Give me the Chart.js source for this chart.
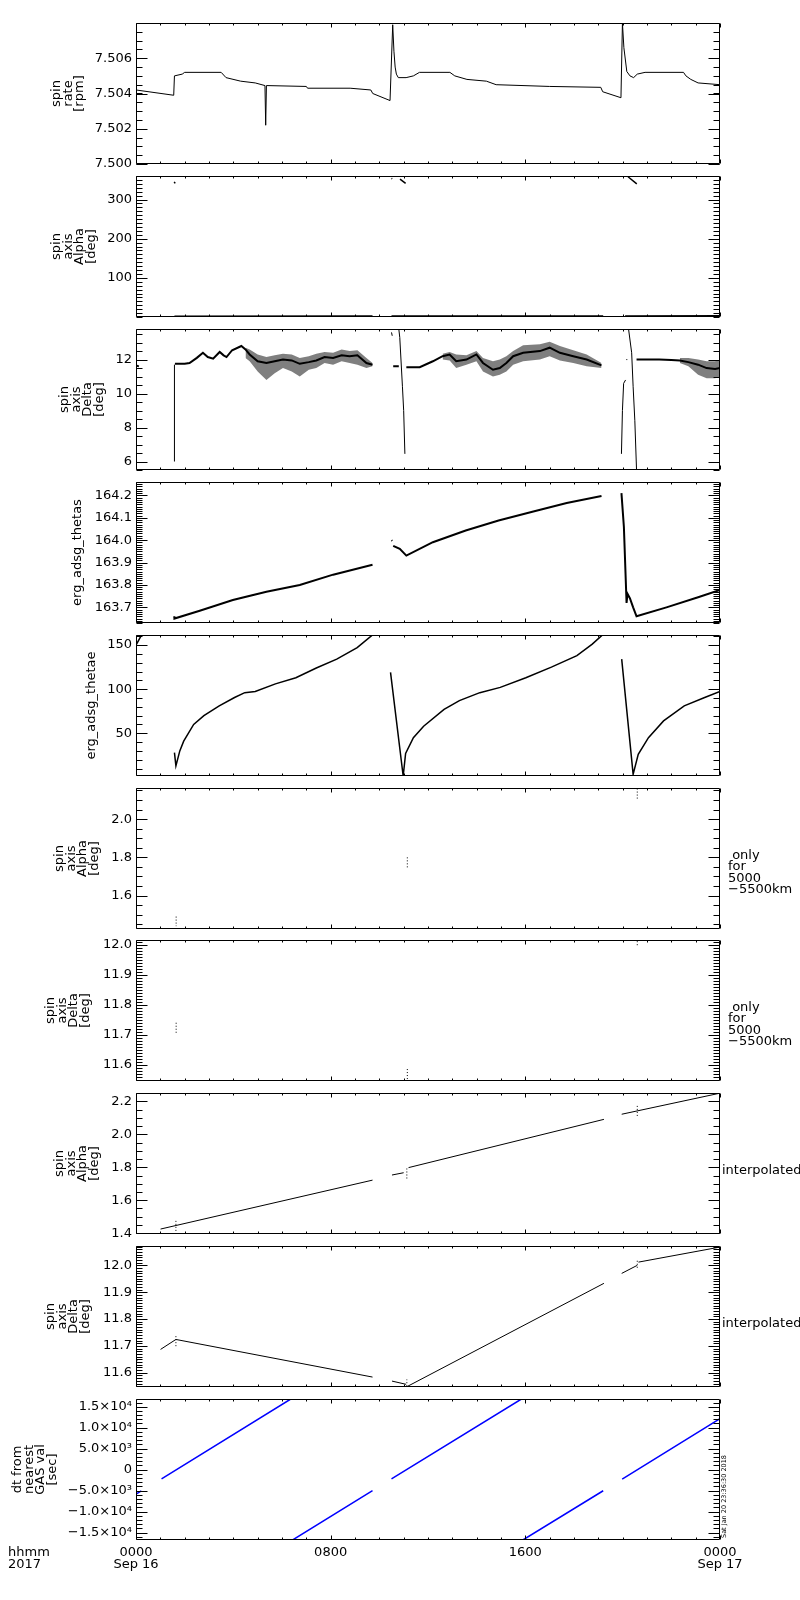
<!DOCTYPE html>
<html>
<head>
<meta charset="utf-8">
<title>ERG spin axis summary</title>
<script src="https://cdn.jsdelivr.net/npm/chart.js@4.4.1/dist/chart.umd.min.js"></script>
<style>
  body { margin: 0; background: #fff; }
  #page { position: relative; width: 800px; height: 1600px; background: #fff; }
  #page canvas { position: absolute; left: 0; }
</style>
</head>
<body>
<div id="page"></div>
<script>
// x axis (hours from 2017-09-16 00:00)
var hourTicks = [0, 8, 16, 24];
var hourLabels = [["0000", "Sep 16"], "0800", "1600", ["0000", "Sep 17"]];

// panel 1: spin rate
var rateTicks = [7.500, 7.502, 7.504, 7.506];
var rateHours = [0, 1.55, 1.58, 1.9, 2.0, 3.5, 3.7, 4.3, 4.9, 5.3,
  5.33, 5.36, 7.0, 7.05, 8.8, 9.65, 9.73, 10.44, 10.55, 10.6,
  10.65, 10.7, 10.78, 11.1, 11.4, 11.65, 12.9, 13.1, 13.6, 14.4,
  14.8, 17.0, 19.1, 19.18, 19.93, 19.99, 20.05, 20.17, 20.3, 20.45,
  20.6, 20.92, 22.5, 22.6, 22.8, 23.1, 24];
var rateVals = [7.5042, 7.5039, 7.5050, 7.5051, 7.5052, 7.5052, 7.5049, 7.5047, 7.5046, 7.50445,
  7.5022, 7.50445, 7.5044, 7.5043, 7.5043, 7.5042, 7.5040, 7.5036, 7.5079, 7.5064,
  7.5055, 7.5051, 7.5049, 7.5049, 7.5050, 7.5052, 7.5052, 7.5050, 7.5048, 7.5047,
  7.5045, 7.5044, 7.50435, 7.5041, 7.50376, 7.5080, 7.5066, 7.50525, 7.5050, 7.5049,
  7.5051, 7.5052, 7.5052, 7.5050, 7.5048, 7.5046, 7.5045];

// panel 2: spin axis alpha
var alphaTicks = [100, 200, 300];
var alphaHours = [1.58, 9.72, 10.0, 10.5, 11.1, 19.2, 19.5, 20.1, 24];
var alphaVals = [1.43, 1.72, null, 1.75, 1.77, 2.09, null, 2.12, 2.25];
var alphaWrapHours = [1.57, 1.61, 2.0, 10.5, 10.53, 10.7, 10.85, 11.08, 15.0, 20.22, 20.58];
var alphaWrapVals = [345, 341, null, 354, 353, null, 352, 341, null, 358, 340];

// panel 3: spin axis delta
var deltaTicks = [6, 8, 10, 12];
var deltaHours = [0, 0.12, 0.5, 1.6, 2.0, 2.2, 2.5, 2.75, 2.95, 3.17,
  3.44, 3.6, 3.72, 3.95, 4.33, 4.5, 4.67, 5.0, 5.36, 5.7,
  6.04, 6.4, 6.73, 7.1, 7.41, 7.75, 8.1, 8.45, 8.78, 9.1,
  9.47, 9.72, 10.2, 10.57, 10.8, 10.9, 11.11, 11.66, 12.2, 12.6,
  12.89, 13.16, 13.58, 13.99, 14.26, 14.67, 14.95, 15.22, 15.5, 15.91,
  16.6, 17.0, 17.42, 17.97, 18.52, 19.13, 19.5, 20.57, 21.0, 21.5,
  22.0, 22.35, 22.7, 23.1, 23.45, 23.8, 24];
var deltaVals = [11.65, 11.6, null, 11.75, 11.75, 11.8, 12.1, 12.4, 12.15, 12.05,
  12.45, 12.25, 12.15, 12.55, 12.8, 12.6, 12.3, 11.9, 11.8, 11.9,
  12.0, 11.95, 11.75, 11.85, 11.95, 12.15, 12.1, 12.25, 12.2, 12.25,
  11.8, 11.7, null, 11.6, 11.6, null, 11.55, 11.55, 11.9, 12.2,
  12.3, 11.9, 12.0, 12.3, 11.8, 11.4, 11.5, 11.8, 12.2, 12.4,
  12.5, 12.7, 12.4, 12.2, 12.0, 11.66, null, 12.0, 12.0, 12.0,
  11.98, 11.95, 11.85, 11.7, 11.5, 11.45, 11.5];
var deltaSpikeHours = [1.58, 1.58, 1.7, 10.5, 10.53, 10.6, 10.8, 10.84, 10.95, 11.0,
  11.05, 11.5, 19.95, 19.99, 20.04, 20.12, 20.14, 20.15, 20.19, 20.21,
  20.24, 20.37, 20.43, 20.5, 20.57];
var deltaSpikeVals = [6.0, 11.7, null, 13.6, 13.4, null, 13.8, 13.3, 10.4, 9.0,
  6.45, null, 6.45, 9.0, 10.6, 10.8, null, 12.0, 12.0, null,
  13.82, 12.4, 10.4, 8.4, 5.5];
var deltaBandHours = [4.5, 4.67, 5.0, 5.36, 5.7, 6.04, 6.4, 6.73, 7.1, 7.41,
  7.75, 8.1, 8.45, 8.78, 9.1, 9.47, 9.72, 10.0, 12.6, 12.89,
  13.16, 13.58, 13.99, 14.26, 14.67, 14.95, 15.22, 15.5, 15.91, 16.6,
  17.0, 17.42, 17.97, 18.52, 19.13, 20.0, 22.35, 22.7, 23.1, 23.45,
  23.8, 24];
var deltaBandHigh = [12.7, 12.6, 12.3, 12.15, 12.25, 12.35, 12.3, 12.1, 12.2, 12.35,
  12.45, 12.4, 12.6, 12.5, 12.55, 12.1, 11.8, null, 12.35, 12.45,
  12.3, 12.25, 12.5, 12.1, 11.9, 12.0, 12.2, 12.5, 12.85, 12.9,
  13.05, 12.8, 12.55, 12.3, 11.8, null, 12.1, 12.1, 12.0, 11.9,
  11.9, 12.0];
var deltaBandLow = [12.1, 11.9, 11.3, 10.8, 11.2, 11.5, 11.3, 11.0, 11.4, 11.5,
  11.8, 11.7, 11.9, 11.8, 11.7, 11.5, 11.6, null, 12.0, 11.95,
  11.5, 11.7, 11.9, 11.3, 11.0, 11.1, 11.3, 11.7, 11.9, 12.0,
  12.2, 11.95, 11.8, 11.6, 11.5, null, 11.8, 11.6, 11.1, 10.9,
  10.9, 11.0];

// panel 4: erg_adsg_thetas
var thetasTicks = [163.7, 163.8, 163.9, 164.0, 164.1, 164.2];
var thetasHours = [1.57, 1.58, 2.62, 3.98, 5.36, 6.73, 8.1, 9.72, 10.2, 10.5,
  10.53, 10.55, 10.57, 10.84, 11.11, 12.2, 13.55, 14.9, 16.33, 17.7,
  19.13, 19.5, 19.95, 20.05, 20.16, 20.2, 20.3, 20.43, 20.57, 21.8,
  23.1, 24];
var thetasVals = [163.66, 163.65, 163.685, 163.733, 163.77, 163.80, 163.846, 163.89, null, 164.0,
  163.997, null, 163.975, 163.961, 163.931, 163.991, 164.043, 164.088, 164.128, 164.166,
  164.197, null, 164.21, 164.06, 163.72, 163.76, 163.74, 163.70, 163.66, 163.70,
  163.745, 163.778];

// panel 5: erg_adsg_thetae
var thetaeTicks = [50, 100, 150];
var thetaeHours = [0, 0.23, 0.8, 1.58, 1.64, 1.8, 1.96, 2.37, 2.79, 3.42,
  4.05, 4.47, 4.9, 5.73, 6.57, 7.41, 8.25, 9.09, 9.72, 10.0,
  10.46, 10.98, 11.08, 11.4, 11.82, 12.66, 13.29, 14.13, 14.97, 16.02,
  17.07, 18.12, 18.75, 19.17, 19.5, 19.96, 20.43, 20.64, 21.06, 21.68,
  22.53, 23.37, 24];
var thetaeVals = [150, 161.5, null, 28, 13, 30, 41, 60, 70, 81,
  90.5, 96, 97.4, 106, 113, 124, 134, 147, 161.5, null,
  119, 1.5, 27, 45, 58, 77, 87, 96, 102, 113,
  125, 138, 151, 161.5, null, 134, 3.4, 26, 45, 64,
  81, 90.5, 97.4];

// panels 6-7: GAS values, only for 5000-5500 km
var gasAlphaTicks = [1.6, 1.8, 2.0];
var gasDeltaTicks = [11.6, 11.7, 11.8, 11.9, 12.0];
var gasHours = [1.65, 1.65, 1.7, 11.15, 11.15, 11.2, 20.6, 20.6];
var gasAlphaVals = [1.49, 1.44, null, 1.80, 1.74, null, 2.16, 2.10];
var gasDeltaVals = [11.74, 11.70, null, 11.585, 11.548, null, 12.013, 11.994];
var gasNote = [" only", "for", "5000", "\u22125500km"];

// panels 8-9: interpolated
var interpAlphaTicks = [1.4, 1.6, 1.8, 2.0, 2.2];
var interpDeltaTicks = [11.6, 11.7, 11.8, 11.9, 12.0];
var interpAlphaHours = [1.01, 9.72, 9.8, 10.52, 11.0, 11.1, 11.2, 19.23, 19.5, 19.96, 24];
var interpAlphaVals = [1.425, 1.722, null, 1.753, 1.767, null, 1.798, 2.091, null, 2.122, 2.25];
var interpDeltaHours = [0, 0.06, 0.5, 1.01, 1.64, 9.72, 9.8, 10.52, 11.1, 11.12,
  11.15, 19.23, 19.5, 19.96, 20.6, 20.62, 20.65, 24];
var interpDeltaVals = [11.645, 11.645, null, 11.687, 11.724, 11.584, null, 11.569, 11.557, null,
  11.549, 11.933, null, 11.970, 12.0, null, 12.012, 12.068];
var markHours = [1.64, 1.64, 1.7, 11.13, 11.13, 11.2, 20.6, 20.6];
var alphaMarkVals = [1.414, 1.476, null, 1.732, 1.794, null, 2.112, 2.173];
var deltaMarkVals = [11.699, 11.737, null, 11.55, 11.575, null, 11.991, 12.022];

// panel 10: dt from nearest GAS value
var dtTicks = [-15000, -10000, -5000, 0, 5000, 10000, 15000];
var dtHours = [0, 0.22, 0.5, 1.05, 6.36, 6.4, 6.44, 9.72, 10.0, 10.5,
  15.84, 15.87, 15.9, 19.2, 19.5, 19.98, 24];
var dtVals = [-5840, -5040, null, -2230, 16840, null, -16760, -5000, null, -2200,
  16840, null, -16780, -5040, null, -2240, 12170];

Chart.defaults.font.family = "'DejaVu Sans', sans-serif";
Chart.defaults.font.size = 13;
Chart.defaults.color = "#000";

var PANEL_TOP = 23, PANEL_STEP = 152.9, PANEL_H = 141, PAD = 12;
var FONT = "13px 'DejaVu Sans', sans-serif";

function pts(xs, ys) {
  return xs.map(function (x, i) { return { x: x, y: ys[i] }; });
}

function series(xs, ys, extra) {
  return Object.assign({
    data: pts(xs, ys), showLine: true, borderColor: "#000", borderWidth: 1,
    pointRadius: 0, spanGaps: false, tension: 0, fill: false
  }, extra || {});
}

function fixed(d) {
  return function (v) { return v.toFixed(d); };
}

var SUP = { 3: "\u00b3", 4: "\u2074" };
function sci(v) {
  if (v === 0) return "0";
  var e = Math.floor(Math.log10(Math.abs(v)) + 1e-9);
  var m = Math.abs(v) / Math.pow(10, e);
  return (v < 0 ? "\u2212" : "") + m.toFixed(1) + "\u00d710" + SUP[e];
}

// IDL-like frame: box with inward ticks on all four sides, plus loose text
var idlFrame = {
  id: "idlFrame",
  afterDatasetsDraw: function (chart, args, o) {
    var ctx = chart.ctx, a = chart.chartArea, x = chart.scales.x, y = chart.scales.y;
    ctx.save();
    ctx.strokeStyle = "#000";
    ctx.lineWidth = 1;
    ctx.beginPath();
    var L = Math.round(a.left) + 0.5, R = Math.round(a.right) - 0.5;
    var T = Math.round(a.top) + 0.5, B = Math.round(a.bottom) - 0.5;
    ctx.rect(L, T, R - L, B - T);
    var n0 = Math.ceil(y.min / o.minor - 1e-6), n1 = Math.floor(y.max / o.minor + 1e-6);
    for (var k = n0; k <= n1; k++) {
      var py = Math.round(y.getPixelForValue(k * o.minor)) + 0.5;
      ctx.moveTo(L, py); ctx.lineTo(L + 6, py);
      ctx.moveTo(R, py); ctx.lineTo(R - 6, py);
    }
    o.major.forEach(function (v) {
      var py = Math.round(y.getPixelForValue(v)) + 0.5;
      ctx.moveTo(L, py); ctx.lineTo(L + 11, py);
      ctx.moveTo(R, py); ctx.lineTo(R - 11, py);
    });
    for (var h = 0; h <= 24; h++) {
      var px = Math.round(x.getPixelForValue(h)) + 0.5;
      var len = h % 8 === 0 ? 4 : 2;
      ctx.moveTo(px, B); ctx.lineTo(px, B - len);
      ctx.moveTo(px, T); ctx.lineTo(px, T + len);
    }
    ctx.stroke();
    ctx.fillStyle = "#000";
    (o.notes || []).forEach(function (n) {
      ctx.save();
      ctx.font = n.font || FONT;
      ctx.textBaseline = "middle";
      ctx.textAlign = "left";
      ctx.translate(n.x, a.top + n.y);
      if (n.rotate) ctx.rotate(n.rotate);
      ctx.fillText(n.text, 0, 0);
      ctx.restore();
    });
    ctx.restore();
  }
};

function stackNote(lines, x, y0) {
  return lines.map(function (t, i) { return { text: t, x: x, y: y0 + i * 11.5 }; });
}

var panels = [
  { title: ["spin", "rate", "[rpm]"], titleX: 57, min: 7.500, max: 7.508, major: rateTicks, minor: 0.0005, fmt: fixed(3),
    datasets: [series(rateHours, rateVals)] },
  { title: ["spin", "axis", "Alpha", "[deg]"], titleX: 57, min: 0, max: 360, major: alphaTicks, minor: 10, fmt: fixed(0),
    datasets: [series(alphaHours, alphaVals, { borderWidth: 2 }), series(alphaWrapHours, alphaWrapVals, { borderWidth: 1.5 })] },
  { title: ["spin", "axis", "Delta", "[deg]"], titleX: 65, min: 5.5, max: 13.8, major: deltaTicks, minor: 0.5, fmt: fixed(0),
    datasets: [
      series(deltaBandHours, deltaBandHigh, { borderWidth: 0, borderColor: "rgba(0,0,0,0)", fill: "+1", backgroundColor: "rgba(0,0,0,0.5)" }),
      series(deltaBandHours, deltaBandLow, { borderWidth: 0, borderColor: "rgba(0,0,0,0)" }),
      series(deltaHours, deltaVals, { borderWidth: 2 }),
      series(deltaSpikeHours, deltaSpikeVals, { borderWidth: 1 })
    ] },
  { title: ["erg_adsg_thetas"], titleX: 78, min: 163.63, max: 164.26, major: thetasTicks, minor: 0.01, fmt: fixed(1),
    datasets: [series(thetasHours, thetasVals, { borderWidth: 2 })] },
  { title: ["erg_adsg_thetae"], titleX: 92, min: 1.5, max: 161.4, major: thetaeTicks, minor: 10, fmt: fixed(0),
    datasets: [series(thetaeHours, thetaeVals, { borderWidth: 1.5 })] },
  { title: ["spin", "axis", "Alpha", "[deg]"], titleX: 60, min: 1.425, max: 2.163, major: gasAlphaTicks, minor: 0.05, fmt: fixed(1),
    notes: stackNote(gasNote, 728, 67.5),
    datasets: [series(gasHours, gasAlphaVals, { borderDash: [1, 2] })] },
  { title: ["spin", "axis", "Delta", "[deg]"], titleX: 51, min: 11.545, max: 12.017, major: gasDeltaTicks, minor: 0.01, fmt: fixed(1),
    notes: stackNote(gasNote, 728, 67.5),
    datasets: [series(gasHours, gasDeltaVals, { borderDash: [1, 2] })] },
  { title: ["spin", "axis", "Alpha", "[deg]"], titleX: 60, min: 1.395, max: 2.251, major: interpAlphaTicks, minor: 0.05, fmt: fixed(1),
    notes: [{ text: "interpolated", x: 722, y: 78 }],
    datasets: [series(interpAlphaHours, interpAlphaVals), series(markHours, alphaMarkVals, { borderDash: [1, 2] })] },
  { title: ["spin", "axis", "Delta", "[deg]"], titleX: 51, min: 11.547, max: 12.072, major: interpDeltaTicks, minor: 0.01, fmt: fixed(1),
    notes: [{ text: "interpolated", x: 722, y: 78 }],
    datasets: [series(interpDeltaHours, interpDeltaVals), series(markHours, deltaMarkVals, { borderDash: [1, 2] })] },
  { title: ["dt from", "nearest", "GAS val", "[sec]"], titleX: 18, min: -16780, max: 16840, major: dtTicks, minor: 1000, fmt: sci,
    notes: [
      { text: "hhmm", x: 8, y: 154 },
      { text: "2017", x: 8, y: 166 },
      { text: "Sat Jan 20 23:36:30 2018", x: 724.5, y: 139, rotate: -Math.PI / 2, font: "6.5px 'DejaVu Sans', sans-serif" }
    ],
    datasets: [series(dtHours, dtVals, { borderColor: "#0000ff", borderWidth: 1.5 })] }
];

var page = document.getElementById("page");

panels.forEach(function (p, i) {
  var last = i === panels.length - 1;
  var c = document.createElement("canvas");
  var top = PANEL_TOP + Math.round(i * PANEL_STEP) - PAD;
  var h = PANEL_H + PAD * 2 + (last ? 38 : 0);
  c.width = 800;
  c.height = h;
  c.style.top = top + "px";
  c.style.width = "800px";
  c.style.height = h + "px";
  page.appendChild(c);

  new Chart(c, {
    type: "scatter",
    data: { datasets: p.datasets },
    options: {
      responsive: false,
      animation: false,
      events: [],
      layout: { padding: { left: 0, right: 80, top: PAD, bottom: PAD } },
      plugins: {
        legend: { display: false },
        tooltip: { enabled: false },
        idlFrame: { major: p.major, minor: p.minor, notes: p.notes }
      },
      scales: {
        x: {
          type: "linear", min: 0, max: 24,
          grid: { display: false, drawTicks: false },
          border: { display: false },
          ticks: {
            display: last, padding: 7, autoSkip: false, maxRotation: 0, minRotation: 0,
            font: { size: 13, lineHeight: 0.92 },
            callback: function (v) { return hourLabels[hourTicks.indexOf(v)]; }
          },
          afterBuildTicks: function (s) { s.ticks = hourTicks.map(function (v) { return { value: v }; }); },
          afterFit: function (s) { s.height = last ? 38 : 0; }
        },
        y: {
          type: "linear", min: p.min, max: p.max,
          grid: { display: false, drawTicks: false },
          border: { display: false },
          ticks: { padding: 4, autoSkip: false, font: { size: 13 }, callback: p.fmt },
          afterBuildTicks: function (s) { s.ticks = p.major.map(function (v) { return { value: v }; }); },
          afterFit: function (s) { s.width = 136; },
          title: {
            display: true, text: p.title,
            font: { size: 13, lineHeight: 0.88 },
            padding: { top: p.titleX - 5.72, bottom: 0 }
          }
        }
      }
    },
    plugins: [idlFrame]
  });
});
</script>
</body>
</html>
